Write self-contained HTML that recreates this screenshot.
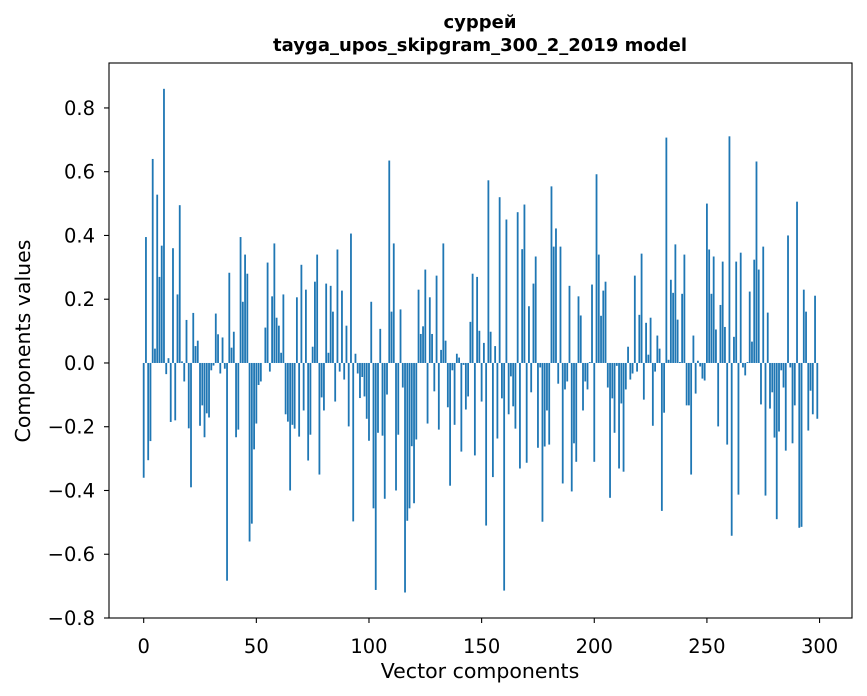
<!DOCTYPE html>
<html><head><meta charset="utf-8">
<style>
html,body{margin:0;padding:0;background:#fff;}
svg{display:block;font-family:"DejaVu Sans","Liberation Sans",sans-serif;}
</style></head>
<body>
<svg id="chart" width="867" height="696" viewBox="0 0 867 696"></svg>
<script>
const componentValues = [
-0.36,0.395,-0.305,-0.245,0.64,0.045,0.528,0.27,0.368,0.86,
-0.035,0.015,-0.185,0.36,-0.18,0.215,0.495,0.005,-0.058,0.135,
-0.205,-0.39,0.157,0.053,0.07,-0.197,-0.133,-0.233,-0.158,-0.171,
-0.023,-0.008,0.155,0.09,-0.033,0.08,-0.018,-0.683,0.283,0.048,
0.098,-0.233,-0.209,0.395,0.192,0.34,0.28,-0.56,-0.504,-0.271,
-0.19,-0.069,-0.058,0.0,0.111,0.315,-0.027,0.209,0.375,0.142,
0.117,0.032,0.215,-0.161,-0.184,-0.40,-0.194,-0.206,0.206,-0.231,
0.308,-0.149,0.23,-0.306,-0.225,0.051,0.255,0.34,-0.35,-0.108,
-0.149,0.249,0.032,0.242,0.161,-0.121,0.356,-0.027,0.227,-0.052,
0.117,-0.199,0.406,-0.497,0.029,-0.033,-0.11,-0.044,-0.105,-0.175,
-0.244,0.192,-0.456,-0.712,-0.219,0.107,-0.228,-0.426,-0.099,0.635,
0.161,0.375,-0.40,-0.225,0.168,-0.077,-0.72,-0.495,-0.456,-0.261,
-0.44,-0.24,0.23,0.091,0.115,0.293,-0.19,0.206,0.091,-0.089,
0.274,-0.209,0.041,0.375,0.07,-0.139,-0.385,-0.023,-0.194,0.029,
0.017,-0.278,-0.006,-0.146,-0.105,0.129,0.28,-0.29,0.27,0.101,
-0.121,0.063,-0.51,0.573,0.098,-0.358,0.053,-0.237,0.52,-0.111,
-0.714,0.45,-0.161,-0.042,-0.136,-0.206,0.473,-0.331,0.357,0.497,
-0.313,0.178,-0.092,0.249,0.334,-0.266,-0.014,-0.498,-0.262,-0.149,
-0.256,0.554,0.365,0.422,-0.065,0.365,-0.378,-0.083,-0.058,0.242,
-0.403,-0.252,-0.31,0.209,0.149,-0.149,-0.058,-0.083,0.003,0.246,
-0.31,0.592,0.34,0.148,0.227,0.255,-0.077,-0.423,-0.111,-0.219,
-0.009,-0.331,-0.127,-0.341,-0.083,0.051,-0.052,-0.033,0.274,-0.027,
0.151,0.343,-0.115,0.126,0.026,0.142,-0.197,-0.027,0.086,0.045,
-0.464,-0.156,0.707,0.01,0.261,0.22,0.372,0.136,0.003,0.217,
0.34,-0.133,-0.133,-0.35,0.086,-0.096,0.007,-0.011,-0.049,-0.055,
0.50,0.356,0.217,0.334,0.105,-0.199,0.182,0.318,0.113,-0.256,
0.711,-0.542,0.082,0.318,-0.413,0.346,-0.014,-0.039,0.003,0.224,
0.067,0.324,0.632,0.293,-0.13,0.365,-0.416,0.158,-0.143,-0.092,
-0.234,-0.49,-0.215,-0.023,-0.077,-0.275,0.40,-0.014,-0.252,-0.133,
0.506,-0.517,-0.514,0.23,0.161,-0.212,-0.087,-0.161,0.211,-0.175
];
const xTickValues = [0,50,100,150,200,250,300];
const yTickValues = [-0.8,-0.6,-0.4,-0.2,0.0,0.2,0.4,0.6,0.8];
const yTickLabels = ["\u22120.8","\u22120.6","\u22120.4","\u22120.2","0.0","0.2","0.4","0.6","0.8"];

const NS = "http://www.w3.org/2000/svg";
const svg = document.getElementById('chart');
const L = 109, R = 852, T = 63, B = 618;
const xMin = -15.4, xMax = 314.4, yMin = -0.8, yMax = 0.941;
function xScale(v){ return L + (v - xMin) / (xMax - xMin) * (R - L); }
function yScale(v){ return B - (v - yMin) / (yMax - yMin) * (B - T); }
function mk(tag, attrs){ const e = document.createElementNS(NS, tag); for (const k in attrs) e.setAttribute(k, attrs[k]); svg.appendChild(e); return e; }

const bw = (xScale(0.8) - xScale(0));
componentValues.forEach((v, i) => {
  const y0 = yScale(0), y1 = yScale(v);
  const r = mk('rect', {x: xScale(i) - bw/2, y: Math.min(y0, y1), width: bw, height: Math.max(Math.abs(y1 - y0), 0.01), fill: '#1f77b4'});
  
  
});

const frame = mk('rect', {x: L, y: T, width: R - L, height: B - T, fill: 'none', stroke: '#000', 'stroke-width': 1.1});



xTickValues.forEach((v) => {
  const x = xScale(v);
  const t = mk('line', {x1: x, x2: x, y1: B, y2: B + 5, stroke: '#000', 'stroke-width': 1.1});
  
  
  const lb = mk('text', {x: x, y: B + 35, 'text-anchor': 'middle', 'font-size': 19.5, fill: '#000'});
  lb.textContent = String(v);
  
  
});
yTickValues.forEach((v, i) => {
  const y = yScale(v);
  const t = mk('line', {x1: L - 5, x2: L, y1: y, y2: y, stroke: '#000', 'stroke-width': 1.1});
  
  
  const lb = mk('text', {x: L - 14, y: y + 7, 'text-anchor': 'end', 'font-size': 19.5, fill: '#000'});
  lb.textContent = yTickLabels[i];
  
  
});
</script>
<div style="position:absolute;left:0;top:0;width:867px;height:696px;pointer-events:none;">
<svg width="867" height="696" style="font-family:'DejaVu Sans','Liberation Sans',sans-serif;">
<text x="480" y="28" text-anchor="middle" font-size="18" font-weight="bold">суррей</text>
<text x="480" y="51" text-anchor="middle" font-size="18" font-weight="bold">tayga_upos_skipgram_300_2_2019 model</text>
<text x="480" y="678" text-anchor="middle" font-size="20.5">Vector components</text>
<text x="0" y="0" transform="translate(30,341) rotate(-90)" text-anchor="middle" font-size="20.5">Components values</text>
</svg>
</div>
</body></html>
